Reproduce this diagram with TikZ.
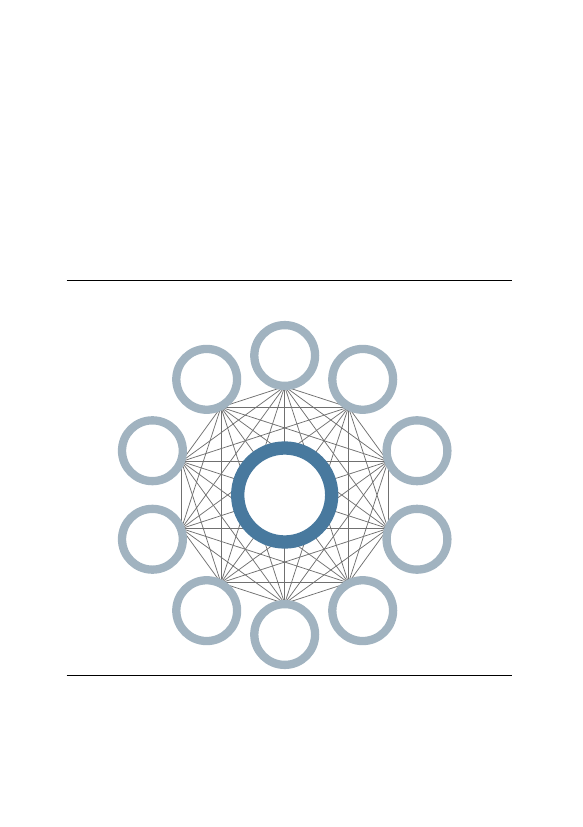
\documentclass[tikz,border=0pt]{standalone}
\usepackage{xcolor}
\usepackage{tikz}
\usetikzlibrary{calc, positioning}
\pgfdeclarelayer{bg}
\pgfsetlayers{bg,main}

\definecolor{ringgray}{RGB}{161,179,192}
\definecolor{ringblue}{RGB}{72,121,158}
\definecolor{edgegray}{RGB}{112,112,112}

\tikzset{
	outer/.style={circle, draw=ringgray, fill=white, line width=8.3pt, minimum size=60.8pt, inner sep=0pt},
	hub/.style={circle, draw=ringblue, fill=white, line width=13.3pt, minimum size=94pt, inner sep=0pt},
	link/.style={draw=edgegray, line width=0.75pt}
}

\begin{document}
\begin{tikzpicture}[x=1pt, y=1pt]
	\useasboundingbox (-284.7,-332) rectangle (298.3,495);

		% rules %
		\draw[line width=0.8pt] (-218,214.5) -- (227,214.5);
		\draw[line width=0.8pt] (-218,-180.3) -- (227,-180.3);

		% nodes - hub and ring %
		\node[hub] (c) at (0,0) {};
		\foreach \a [count=\k] in {90,56,18.5,-18.5,-56,-90,-124,-161.5,161.5,124}
			\node[outer] (o\k) at (\a:139.5) {};

		% edge ends - hidden under the rings %
		\foreach \k in {1,...,10}
			\coordinate (v\k) at ({90-36*(\k-1)}:108.5);

		% edges - every pair, behind the nodes %
		\begin{pgfonlayer}{bg}
		\foreach \i in {1,...,10}{
			\foreach \j in {\i,...,10}{
				\ifnum\j>\i
					\draw[link] (v\i) -- (v\j);
				\fi
			}
		}
		\end{pgfonlayer}

		\end{tikzpicture}
\end{document}
